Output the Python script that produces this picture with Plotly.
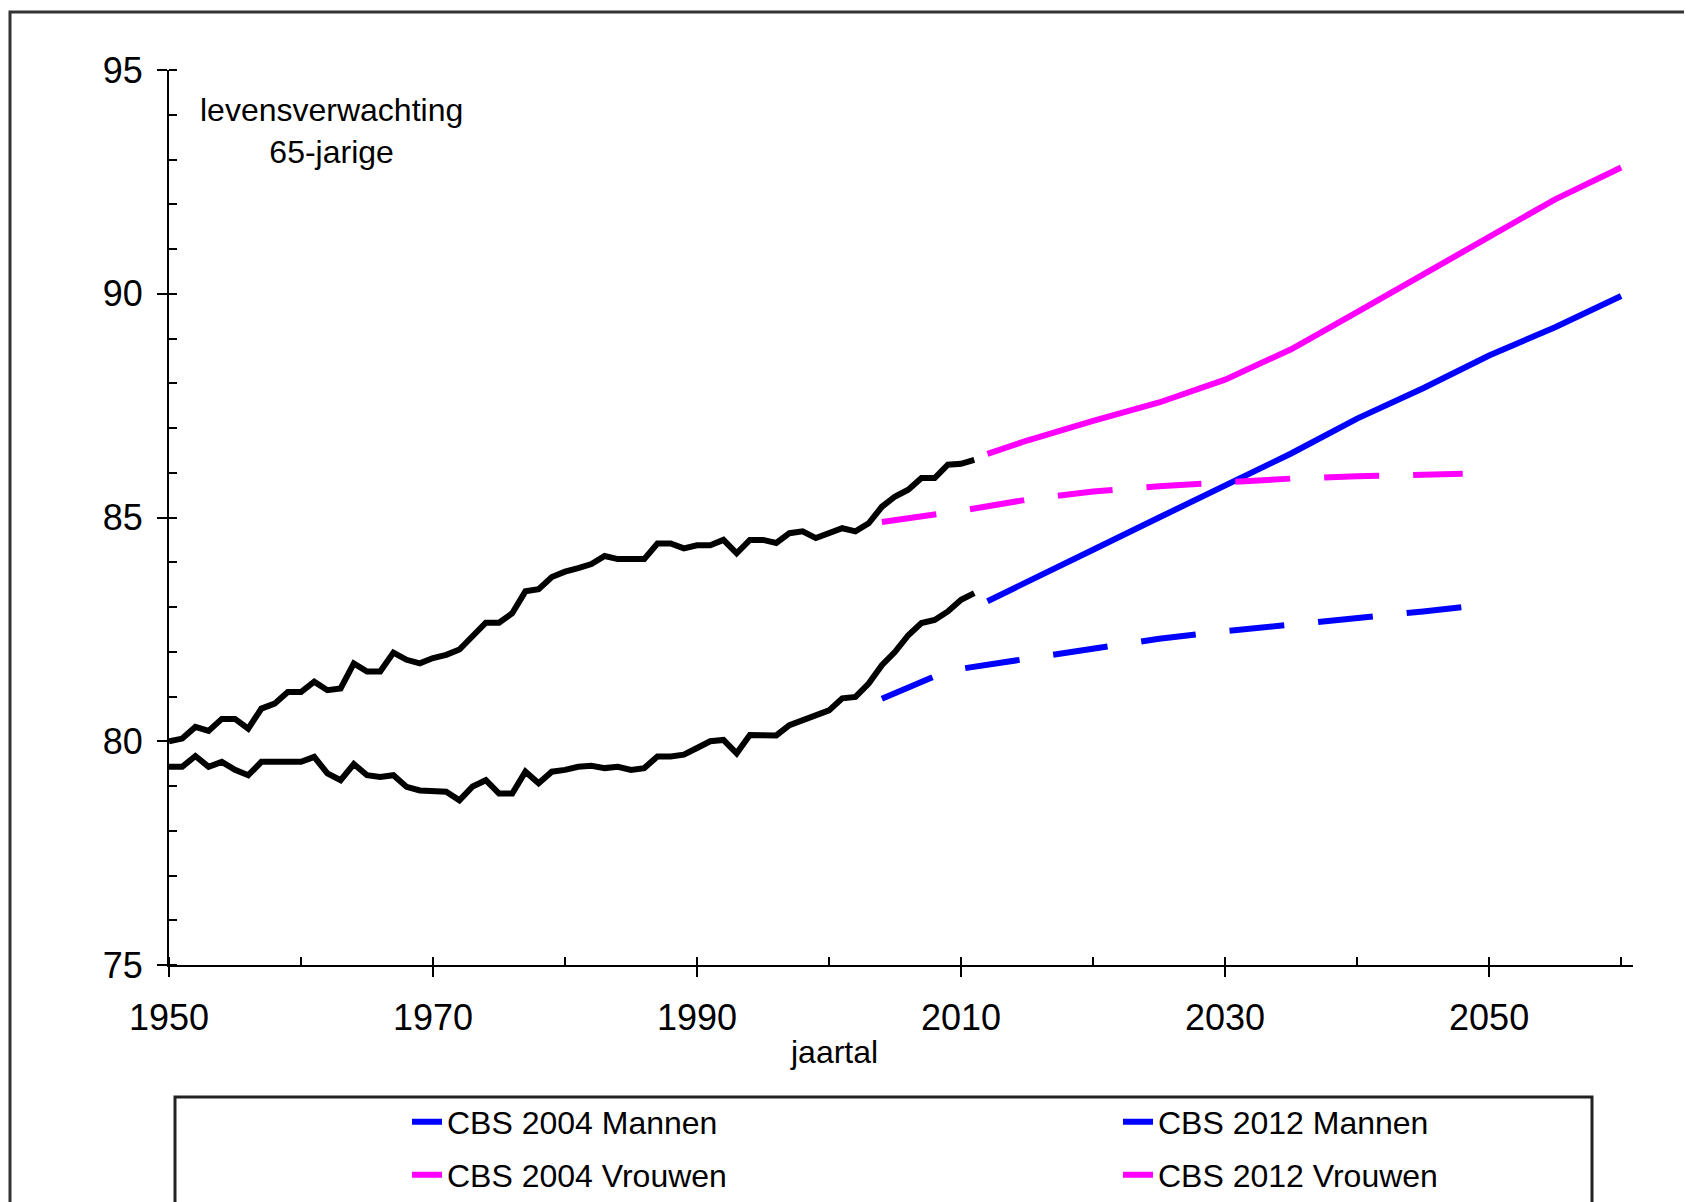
import plotly.graph_objects as go

# ---- data ----
years_hist = list(range(1950, 2012))
vrouwen_hist = [80.0, 80.06, 80.32, 80.23, 80.5, 80.5, 80.28, 80.73, 80.84, 81.1,
                81.1, 81.33, 81.14, 81.18, 81.74, 81.56, 81.56, 81.98, 81.82, 81.74,
                81.86, 81.93, 82.05, 82.34, 82.65, 82.65, 82.86, 83.35, 83.4, 83.67,
                83.79, 83.87, 83.96, 84.14, 84.07, 84.07, 84.07, 84.42, 84.42, 84.31,
                84.38, 84.38, 84.5, 84.2, 84.5, 84.5, 84.43, 84.65, 84.69, 84.54,
                84.65, 84.76, 84.69, 84.87, 85.24, 85.47, 85.62, 85.88, 85.88, 86.18,
                86.2, 86.29]
mannen_hist = [79.43, 79.43, 79.67, 79.43, 79.54, 79.36, 79.24, 79.54, 79.54, 79.54,
               79.54, 79.65, 79.28, 79.13, 79.49, 79.24, 79.2, 79.24, 78.98, 78.9,
               78.87, 78.87, 78.68, 78.99, 79.13, 78.83, 78.83, 79.32, 79.06, 79.32,
               79.36, 79.43, 79.45, 79.4, 79.43, 79.36, 79.4, 79.66, 79.66, 79.7,
               79.85, 80.0, 80.03, 79.73, 80.14, 80.14, 80.13, 80.36, 80.47, 80.58,
               80.69, 80.96, 80.99, 81.29, 81.7, 82.0, 82.37, 82.64, 82.71, 82.9,
               83.16, 83.31]

years_cbs2004 = [2004, 2006, 2008, 2010, 2015, 2020, 2025, 2030, 2035, 2040, 2045, 2048]
mannen_cbs2004 = [80.95, 81.2, 81.45, 81.62, 81.85, 82.06, 82.29, 82.46, 82.6, 82.76, 82.9, 83.0]
vrouwen_cbs2004 = [84.9, 84.98, 85.06, 85.15, 85.4, 85.58, 85.7, 85.8, 85.87, 85.92, 85.96, 85.98]

years_cbs2012 = [2012, 2015, 2020, 2025, 2030, 2035, 2040, 2045, 2050, 2055, 2060]
mannen_cbs2012 = [83.13, 83.55, 84.28, 85.0, 85.71, 86.43, 87.21, 87.89, 88.62, 89.25, 89.95]
vrouwen_cbs2012 = [86.42, 86.72, 87.16, 87.57, 88.08, 88.76, 89.59, 90.43, 91.28, 92.11, 92.82]

x_tick_vals = [1950, 1970, 1990, 2010, 2030, 2050]
y_tick_vals = [75, 80, 85, 90, 95]

BLUE = "#0000FF"
MAGENTA = "#FF00FF"
FONT = "Liberation Sans, Arial, sans-serif"

OFF = 8  # page body margin
W, H = 1692 - OFF, 1202 - OFF
L, T = 169 - OFF, 70 - OFF
PLOT_R, PLOT_B = 1633 - OFF, 965 - OFF
R, B = W - PLOT_R, H - PLOT_B
PW = PLOT_R - L
PH = PLOT_B - T


def px(page_x):
    return (page_x - OFF - L) / PW


def py(page_y):
    return (PLOT_B - (page_y - OFF)) / PH


fig = go.Figure()

fig.add_trace(go.Scatter(x=years_hist, y=vrouwen_hist, mode="lines",
                         line=dict(color="black", width=6), showlegend=False,
                         name="Vrouwen (waargenomen)"))
fig.add_trace(go.Scatter(x=years_hist, y=mannen_hist, mode="lines",
                         line=dict(color="black", width=6), showlegend=False,
                         name="Mannen (waargenomen)"))

fig.add_trace(go.Scatter(x=years_cbs2004, y=mannen_cbs2004, mode="lines",
                         name="CBS 2004 Mannen", legend="legend",
                         line=dict(color=BLUE, width=6, dash="55px,34px")))
fig.add_trace(go.Scatter(x=years_cbs2012, y=mannen_cbs2012, mode="lines",
                         name="CBS 2012 Mannen", legend="legend2",
                         line=dict(color=BLUE, width=6)))
fig.add_trace(go.Scatter(x=years_cbs2004, y=vrouwen_cbs2004, mode="lines",
                         name="CBS 2004 Vrouwen", legend="legend3",
                         line=dict(color=MAGENTA, width=6, dash="55px,34px")))
fig.add_trace(go.Scatter(x=years_cbs2012, y=vrouwen_cbs2012, mode="lines",
                         name="CBS 2012 Vrouwen", legend="legend4",
                         line=dict(color=MAGENTA, width=6)))

axis_common = dict(showline=True, linecolor="black", linewidth=2,
                   ticks="outside", ticklen=10, tickwidth=2, tickcolor="black",
                   showgrid=False, zeroline=False,
                   tickfont=dict(family=FONT, size=36, color="black"))

fig.update_xaxes(range=[1950, 2060.9], tickvals=x_tick_vals,
                 ticktext=[str(v) for v in x_tick_vals],
                 ticklabelstandoff=10,
                 minor=dict(ticks="inside", ticklen=8, tickwidth=2, tickcolor="black",
                            tick0=1950, dtick=10, showgrid=False),
                 **axis_common)
fig.update_yaxes(range=[75, 95], tickvals=y_tick_vals,
                 ticktext=[str(v) for v in y_tick_vals],
                 ticklabelstandoff=7,
                 minor=dict(ticks="inside", ticklen=8, tickwidth=2, tickcolor="black",
                            tick0=75, dtick=1, showgrid=False),
                 **axis_common)

legend_common = dict(xanchor="left", yanchor="middle", bgcolor="rgba(0,0,0,0)",
                     borderwidth=0, font=dict(family=FONT, size=32, color="black"))

COL1_TEXT, COL2_TEXT = 447, 1158
ROW1_Y, ROW2_Y = 1122, 1175

fig.update_layout(
    width=W, height=H,
    margin=dict(l=L, r=R, t=T, b=B, autoexpand=False),
    paper_bgcolor="white", plot_bgcolor="white",
    font=dict(family=FONT, size=32, color="black"),
    legend=dict(x=px(COL1_TEXT - 40), y=py(ROW1_Y), **legend_common),
    legend2=dict(x=px(COL2_TEXT - 40), y=py(ROW1_Y), **legend_common),
    legend3=dict(x=px(COL1_TEXT - 40), y=py(ROW2_Y), **legend_common),
    legend4=dict(x=px(COL2_TEXT - 40), y=py(ROW2_Y), **legend_common),
    shapes=[
        dict(type="rect", xref="paper", yref="paper",
             x0=px(10), x1=px(1720), y0=py(1230), y1=py(12),
             line=dict(color="#333333", width=3), layer="below"),
        dict(type="rect", xref="paper", yref="paper",
             x0=px(175), x1=px(1592), y0=py(1230), y1=py(1097),
             line=dict(color="#222222", width=3), layer="below"),
    ],
    annotations=[
        dict(text="levensverwachting<br>65-jarige", xref="paper", yref="paper",
             x=px(331), y=py(131), xanchor="center", yanchor="middle",
             showarrow=False, align="center",
             font=dict(family=FONT, size=32, color="black")),
        dict(text="jaartal", xref="paper", yref="paper",
             x=px(834), y=py(1052), xanchor="center", yanchor="middle",
             showarrow=False, font=dict(family=FONT, size=32, color="black")),
    ],
)

fig.write_html("out.html")
